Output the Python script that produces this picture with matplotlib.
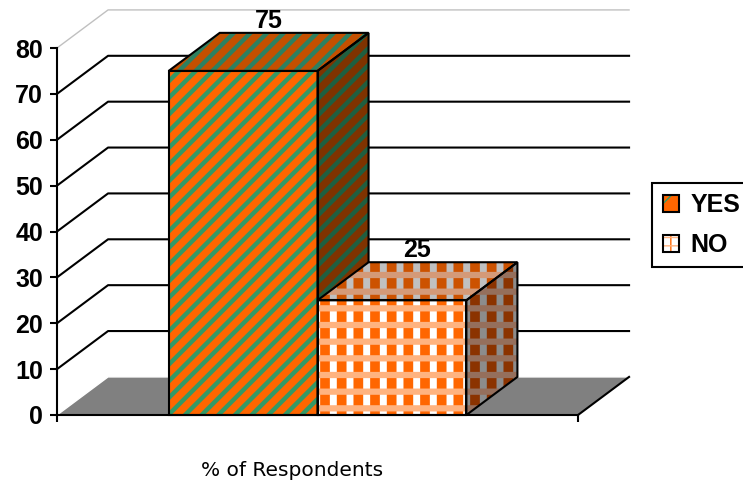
import matplotlib
matplotlib.use("Agg")
import matplotlib.pyplot as plt
from matplotlib.patches import Polygon, Patch
from matplotlib.legend_handler import HandlerTuple

# Datos del grafico
categories = ["YES", "NO"]
values = [75, 25]
value_labels = ["75", "25"]
y_ticks = [0, 10, 20, 30, 40, 50, 60, 70, 80]
x_title = "% of Respondents"

W, H = 743, 483
fig = plt.figure(figsize=(W / 100, H / 100), dpi=100)
ax = fig.add_axes([57 / W, (H - 415) / H, 521 / W, 367 / H])
ax.set_xlim(0, 2)
ax.set_ylim(0, 80)
ax.patch.set_visible(False)

# profundidad del efecto 3D (em unidades dos eixos)
dx, dy = 0.196, 8.3
gap = 1.5
w = 2 / (len(values) + gap)
x_start = 1 - w * len(values) / 2
ymax = y_ticks[-1]

bold = dict(family="Liberation Sans", weight="bold", size=18)


def face(xy, layers, z):
    # cada camada: cor de fundo, hatch, cor do hatch, espessura do hatch
    for fc, hatch, hc, hlw in layers:
        with plt.rc_context({"hatch.linewidth": hlw}):
            p = Polygon(xy, closed=True, facecolor=fc, edgecolor=hc,
                        hatch=hatch, lw=0, zorder=z, clip_on=False)
        if hasattr(p, "set_hatch_linewidth"):
            p.set_hatch_linewidth(hlw)
        ax.add_patch(p)
    ax.add_patch(Polygon(xy, closed=True, fill=False, edgecolor="black",
                         lw=1.5, zorder=z + 0.1, clip_on=False,
                         joinstyle="miter"))


def swatch(layers):
    hs = []
    for fc, hatch, hc, hlw in layers:
        with plt.rc_context({"hatch.linewidth": hlw}):
            p = Patch(facecolor=fc, edgecolor=hc, hatch=hatch, lw=0)
        if hasattr(p, "set_hatch_linewidth"):
            p.set_hatch_linewidth(hlw)
        hs.append(p)
    hs.append(Patch(fill=False, edgecolor="black", lw=1.5))
    return tuple(hs)


styles = {
    "YES": {
        "front": [("#FF6600", "//", "#339966", 3.2)],
        "top": [("#C45000", "//", "#2E8060", 3.2)],
        "side": [("#7F3300", "//", "#1F5F40", 3.2)],
    },
    "NO": {
        "front": [("white", "|", "#FF6600", 7.0), ("none", "-", "#FFB380", 4.5)],
        "top": [("#C0C0C0", "|", "#CC5200", 7.0), ("none", "-", "#D49A78", 4.5)],
        "side": [("#8C8C8C", "|", "#8B3300", 7.0), ("none", "-", "#956F5C", 4.5)],
    },
}
legend_styles = {
    "YES": [("#FF6600", "/", "#339966", 3.5)],
    "NO": [("white", "||", "#FF6600", 4.0), ("none", "--", "#FFB380", 3.0)],
}

# piso
ax.add_patch(Polygon([(0, 0), (2, 0), (2 + dx, dy), (dx, dy)], closed=True,
                     facecolor="#808080", edgecolor="none", zorder=1,
                     clip_on=False))
ax.plot([0, dx, 2 + dx], [0, dy, dy], color="white", lw=1, zorder=1.2,
        clip_on=False)
ax.plot([2, 2 + dx], [0, dy], color="black", lw=1.5, zorder=1.2,
        clip_on=False)

# linhas de grade (parede lateral e fundo)
for t in y_ticks[1:]:
    col = "#C0C0C0" if t == ymax else "black"
    lw = 1 if t == ymax else 1.5
    ax.plot([0, dx, 2 + dx], [t, t + dy, t + dy], color=col, lw=lw,
            zorder=1.5, clip_on=False)

# barras
for i, (cat, v, lab) in enumerate(zip(categories, values, value_labels)):
    x0 = x_start + i * w
    x1 = x0 + w
    z = 3 + i
    st = styles[cat]
    face([(x0, 0), (x1, 0), (x1, v), (x0, v)], st["front"], z)
    face([(x1, 0), (x1 + dx, dy), (x1 + dx, v + dy), (x1, v)], st["side"], z)
    face([(x0, v), (x1, v), (x1 + dx, v + dy), (x0 + dx, v + dy)], st["top"], z)
    ax.text(x0 + w / 2 + dx / 2, v + dy, lab, ha="center", va="bottom",
            zorder=10, **bold)

# eixos
for s in ["top", "right"]:
    ax.spines[s].set_visible(False)
for s in ["left", "bottom"]:
    ax.spines[s].set_linewidth(1.5)
    ax.spines[s].set_zorder(8)
ax.set_yticks(y_ticks)
ax.set_yticklabels([str(t) for t in y_ticks], fontdict=bold)
ax.tick_params(axis="y", direction="out", length=5, width=1.5, pad=5)
ax.set_xticks([0, 2])
ax.set_xticklabels(["", ""])
ax.tick_params(axis="x", direction="out", length=5, width=1.5)

ax.set_xlabel(x_title, family="DejaVu Sans", size=14.5)
ax.xaxis.set_label_coords((292 - 57) / 521, -(470 - 415) / 367)
ax.xaxis.label.set_va("center")

# legenda
handles = [swatch(legend_styles[c]) for c in categories]
leg = fig.legend(handles, categories,
                 handler_map={tuple: HandlerTuple(ndivide=1, pad=0)},
                 loc="upper left", bbox_to_anchor=(652 / W, 1 - 183 / H),
                 bbox_transform=fig.transFigure, borderaxespad=0,
                 fancybox=False, framealpha=1, edgecolor="black",
                 handlelength=0.66, handleheight=0.66, handletextpad=0.45,
                 labelspacing=0.62, borderpad=0.42, prop=bold)
leg.get_frame().set_linewidth(1.5)

fig.savefig("out.png", dpi=100)
